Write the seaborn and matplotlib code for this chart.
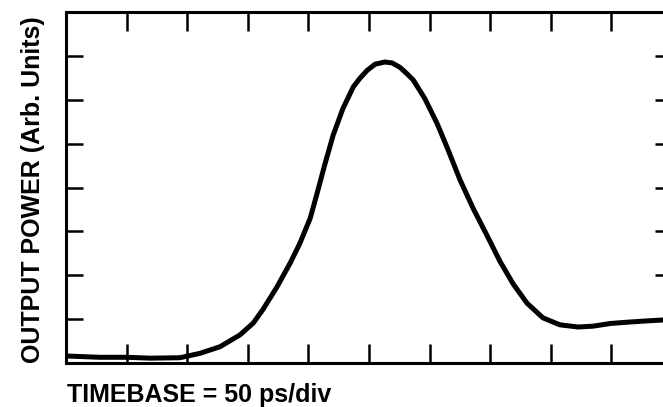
import matplotlib
matplotlib.use("Agg")
import matplotlib.pyplot as plt
import seaborn as sns
import pandas as pd

# Sampled oscilloscope trace: time in divisions, power in divisions
time_div = [0.00, 0.56, 1.01, 1.39, 1.88, 2.21, 2.54, 2.87, 3.09, 3.25,
            3.48, 3.70, 3.86, 4.03, 4.14, 4.27, 4.41, 4.57, 4.74, 4.85,
            4.97, 5.10, 5.26, 5.38, 5.51, 5.62, 5.73, 5.92, 6.12, 6.29,
            6.50, 6.72, 6.95, 7.16, 7.38, 7.61, 7.87, 8.15, 8.45, 8.70,
            8.98, 9.26, 9.59, 9.85, 10.00]
power_div = [0.16, 0.13, 0.13, 0.11, 0.12, 0.22, 0.37, 0.64, 0.91, 1.22,
             1.73, 2.28, 2.73, 3.30, 3.85, 4.52, 5.20, 5.80, 6.29, 6.49,
             6.67, 6.81, 6.86, 6.84, 6.74, 6.60, 6.45, 6.03, 5.47, 4.91,
             4.18, 3.52, 2.90, 2.32, 1.80, 1.36, 1.03, 0.87, 0.82, 0.84,
             0.90, 0.93, 0.96, 0.98, 0.98]

x_divisions = list(range(0, 11))
y_divisions = list(range(0, 9))

x_label = "TIMEBASE = 50 ps/div"
y_label = "OUTPUT POWER (Arb. Units)"

df = pd.DataFrame({"time": time_div, "power": power_div})

sns.set_style("ticks")
plt.rcParams["font.family"] = ["Liberation Sans", "DejaVu Sans"]

fig = plt.figure(figsize=(6.63, 4.07), dpi=100)
ax = fig.add_axes([66 / 663, 44 / 407, 606 / 663, 351 / 407])

sns.lineplot(data=df, x="time", y="power", ax=ax, color="black",
             linewidth=3.6, sort=False, solid_joinstyle="round",
             solid_capstyle="round")

ax.set_xlim(0, 10)
ax.set_ylim(0, 8)
ax.set_xticks(x_divisions)
ax.set_yticks(y_divisions)
ax.set_xticklabels([])
ax.set_yticklabels([])
ax.set_xlabel("")
ax.set_ylabel("")

for side in ["left", "right", "top", "bottom"]:
    ax.spines[side].set_visible(True)
    ax.spines[side].set_linewidth(2.2)
    ax.spines[side].set_color("black")

ax.tick_params(axis="x", which="both", direction="in", top=True, bottom=True,
               length=14, width=1.8, color="black")
ax.tick_params(axis="y", which="both", direction="in", left=True, right=True,
               length=12, width=1.8, color="black")

fig.text(33 / 663, 1 - 190 / 407, y_label, rotation=90, ha="center",
         va="center", fontsize=18, fontweight="bold", color="black")
fig.text(67 / 663, 1 - 402 / 407, x_label, ha="left", va="baseline",
         fontsize=18, fontweight="bold", color="black")

fig.savefig("out.png", dpi=100)
